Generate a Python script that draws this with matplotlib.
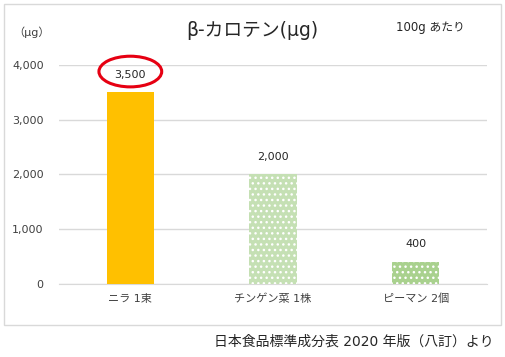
import matplotlib

matplotlib.use("Agg")
import matplotlib.pyplot as plt
from matplotlib.patches import Ellipse, Rectangle

# 数字は DejaVu、日本語は Noto にフォールバック
plt.rcParams["font.family"] = ["DejaVu Sans", "Noto Sans CJK JP"]
plt.rcParams["hatch.linewidth"] = 1.0

categories = ["ニラ 1束", "チンゲン菜 1株", "ピーマン 2個"]
values = [3500, 2000, 400]
value_labels = ["3,500", "2,000", "400"]
yticks = [0, 1000, 2000, 3000, 4000]
ytick_labels = ["0", "1,000", "2,000", "3,000", "4,000"]

colors = ["#FFC000", "#C5E0B4", "#A9D18E"]
hatches = [None, "...", "..."]

fig = plt.figure(figsize=(5.06, 3.57), dpi=100)
ax = fig.add_axes([0.1166, 0.2045, 0.8458, 0.6135])

x = range(len(categories))
for i, (v, c, h) in enumerate(zip(values, colors, hatches)):
    if h is None:
        ax.bar(i, v, width=0.33, color=c, linewidth=0, zorder=3)
    else:
        ax.bar(i, v, width=0.33, facecolor=c, edgecolor="white", hatch=h, linewidth=0, zorder=3)

for i, (v, lab) in enumerate(zip(values, value_labels)):
    ax.text(i, v + 230, lab, ha="center", va="bottom", fontsize=8, color="#262626")

# 3,500 を赤丸で強調
ax.add_patch(Ellipse((0, values[0] + 380), 0.44, 560, fill=False, edgecolor="#E60012",
                     linewidth=2.2, clip_on=False, zorder=5))

ax.set_xlim(-0.5, 2.5)
ax.set_ylim(0, 4000)
ax.set_yticks(yticks)
ax.set_yticklabels(ytick_labels)
ax.set_xticks(list(x))
ax.set_xticklabels(categories)
ax.tick_params(axis="both", length=0, labelsize=8, colors="#404040")
ax.tick_params(axis="y", pad=11)
ax.tick_params(axis="x", pad=7)
ax.grid(axis="y", color="#D9D9D9", linewidth=1, zorder=0)
for side in ["top", "right", "left"]:
    ax.spines[side].set_visible(False)
ax.spines["bottom"].set_color("#D9D9D9")

fig.add_artist(Rectangle((0.0079, 0.0896), 0.982, 0.899, transform=fig.transFigure,
                         fill=False, edgecolor="#D9D9D9", linewidth=1))

fig.text(0.498, 0.915, "β-カロテン(μg)", ha="center", va="center", fontsize=13.5, color="#262626")
fig.text(0.063, 0.91, "（μg）", ha="center", va="center", fontsize=8, color="#404040")
fig.text(0.85, 0.922, "100g あたり", ha="center", va="center", fontsize=8.5, color="#262626")
fig.text(0.975, 0.042, "日本食品標準成分表 2020 年版（八訂）より", ha="right", va="center",
         fontsize=10, color="#262626")

fig.savefig("out.png", dpi=100)
